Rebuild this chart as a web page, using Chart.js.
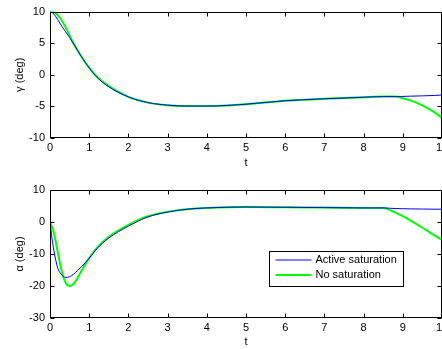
<!DOCTYPE html>
<html>
<head>
<meta charset="utf-8">
<script src="https://cdn.jsdelivr.net/npm/chart.js@4/dist/chart.umd.min.js"></script>
<style>
  html, body { margin: 0; padding: 0; background: #fff; overflow: hidden; }
  .wrap { position: relative; width: 460px; }
  canvas { display: block; }
</style>
</head>
<body>
<div class="wrap" style="height:175px"><canvas id="gammaChart"></canvas></div>
<div class="wrap" style="height:174px"><canvas id="alphaChart"></canvas></div>
<script>
// time samples (s)
const time = [0, 0.05, 0.1, 0.2, 0.3, 0.4, 0.5, 0.6, 0.7, 0.8, 1.0, 1.2, 1.5, 2.0, 2.5, 3.0, 3.5, 4.0, 5.0, 6.0, 7.0, 8.0, 8.5, 8.8, 9.0, 9.2, 9.5, 9.8, 10];

// flight path angle gamma (deg)
const gammaActive = [10, 9.85, 9.6, 8.7, 7.7, 6.8, 5.9, 4.9, 3.9, 2.9, 1.1, -0.4, -1.9, -3.5, -4.4, -4.8, -4.95, -4.95, -4.65, -4.1, -3.8, -3.55, -3.45, -3.45, -3.42, -3.38, -3.33, -3.27, -3.2];
const gammaNone = [10, 9.97, 9.9, 9.4, 8.6, 7.5, 6.2, 5.0, 3.9, 2.9, 1.1, -0.3, -1.8, -3.5, -4.4, -4.8, -4.95, -4.95, -4.65, -4.1, -3.8, -3.55, -3.45, -3.45, -3.7, -4.05, -4.85, -5.9, -6.8];

// angle of attack alpha (deg)
const alphaActive = [0, -5, -9, -14.5, -16.5, -17.3, -17.1, -16.3, -15.2, -14.0, -11.3, -8.3, -5.0, -1.3, 1.6, 3.1, 4.0, 4.4, 4.7, 4.6, 4.5, 4.4, 4.4, 4.2, 4.15, 4.1, 4.05, 4.0, 4.0];
const alphaNone = [0, -1.5, -3.5, -9.5, -15.5, -19, -20, -19.3, -17.5, -15.3, -11.3, -8.0, -4.6, -0.9, 1.8, 3.2, 4.0, 4.4, 4.7, 4.6, 4.5, 4.4, 4.4, 3.0, 1.8, 0.4, -1.8, -4.1, -5.6];

const seriesLabels = ['Active saturation', 'No saturation'];

const FONT = { family: 'Liberation Sans, Arial, sans-serif', size: 11 };

const toPoints = (ys) => ys.map((y, i) => ({ x: time[i], y }));

// matlab style box with inward ticks, plus optional legend inside the axes
const axesBox = {
  id: 'axesBox',
  afterDatasetsDraw(chart, args, opts) {
    const { ctx, chartArea: a, scales } = chart;
    const L = Math.round(a.left) + 0.5, R = Math.round(a.right) - 0.5;
    const T = Math.round(a.top) + 0.5, B = Math.round(a.bottom) - 0.5;
    ctx.save();
    ctx.strokeStyle = '#000';
    ctx.lineWidth = 1;
    ctx.strokeRect(L, T, R - L, B - T);
    ctx.beginPath();
    scales.x.ticks.forEach(tk => {
      const px = Math.round(scales.x.getPixelForValue(tk.value)) + 0.5;
      ctx.moveTo(px, B); ctx.lineTo(px, B - 4);
      ctx.moveTo(px, T); ctx.lineTo(px, T + 4);
    });
    scales.y.ticks.forEach(tk => {
      const py = Math.round(scales.y.getPixelForValue(tk.value)) + 0.5;
      ctx.moveTo(L, py); ctx.lineTo(L + 4, py);
      ctx.moveTo(R, py); ctx.lineTo(R - 4, py);
    });
    ctx.stroke();

    if (opts.legend) {
      const lx = 269.5, ly = 76.5, lw = 134, lh = 35;
      ctx.fillStyle = '#fff';
      ctx.fillRect(lx, ly, lw, lh);
      ctx.strokeRect(lx, ly, lw, lh);
      ctx.font = FONT.size + 'px ' + FONT.family;
      ctx.textBaseline = 'middle';
      chart.data.datasets.forEach((ds, i) => {
        const y = ly + 8.5 + i * 15;
        ctx.strokeStyle = ds.borderColor;
        ctx.lineWidth = ds.borderWidth;
        ctx.beginPath();
        ctx.moveTo(lx + 6, y); ctx.lineTo(lx + 42, y);
        ctx.stroke();
        ctx.fillStyle = '#000';
        ctx.fillText(ds.label, lx + 46, y);
      });
    }
    ctx.restore();
  }
};

function makeChart(id, active, none, yMin, yMax, yStep, yTitle, padTop, xHeight, xTitlePad, legend) {
  return new Chart(document.getElementById(id), {
    type: 'line',
    data: {
      datasets: [
        { label: seriesLabels[0], data: toPoints(active), borderColor: '#0000ff', borderWidth: 1 },
        { label: seriesLabels[1], data: toPoints(none), borderColor: '#00ff00', borderWidth: 2 }
      ]
    },
    options: {
      responsive: true,
      maintainAspectRatio: false,
      animation: false,
      layout: { padding: { top: padTop, right: 18, left: 0, bottom: 0 } },
      elements: {
        point: { radius: 0 },
        line: { cubicInterpolationMode: 'monotone', fill: false }
      },
      plugins: {
        legend: { display: false },
        tooltip: { enabled: false },
        axesBox: { legend }
      },
      scales: {
        x: {
          type: 'linear', min: 0, max: 10,
          grid: { display: false, drawTicks: false },
          border: { display: false },
          ticks: { stepSize: 1, padding: 3, color: '#000', font: FONT, maxRotation: 0 },
          title: { display: true, text: 't', color: '#000', font: FONT, padding: { top: 0, bottom: xTitlePad } },
          afterFit: (s) => { s.height = xHeight; }
        },
        y: {
          min: yMin, max: yMax,
          grid: { display: false, drawTicks: false },
          border: { display: false },
          ticks: { stepSize: yStep, padding: 5, color: '#000', font: FONT },
          title: { display: true, text: yTitle, color: '#000', font: FONT, padding: { top: 13, bottom: 0 } },
          afterFit: (s) => { s.width = 50; }
        }
      }
    },
    plugins: [axesBox]
  });
}

makeChart('gammaChart', gammaActive, gammaNone, -10, 10, 5, 'γ (deg)', 11, 37, 5, false);
makeChart('alphaChart', alphaActive, alphaNone, -30, 10, 10, 'α (deg)', 15, 31, 0, true);
</script>
</body>
</html>
